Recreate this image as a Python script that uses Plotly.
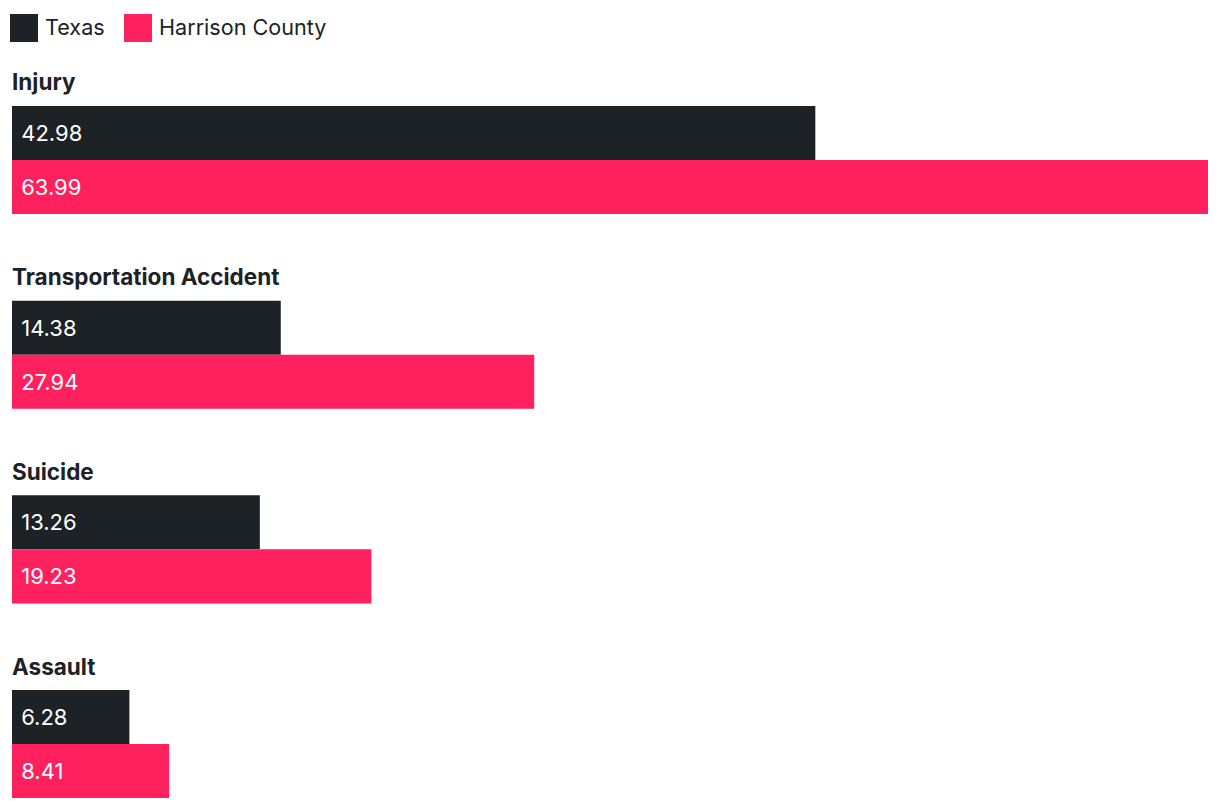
import plotly.graph_objects as go

categories = ["Injury", "Transportation Accident", "Suicide", "Assault"]
texas = [42.98, 14.38, 13.26, 6.28]
harrison = [63.99, 27.94, 19.23, 8.41]
series_names = ["Texas", "Harrison County"]
colors = ["#1c2226", "#ff215d"]

FONT = "Inter"
fig = go.Figure()
for name, vals, col in zip(series_names, [texas, harrison], colors):
    fig.add_trace(go.Bar(
        y=categories, x=vals, orientation="h", name=name,
        marker=dict(color=col, line=dict(width=0)),
        texttemplate="\u00a0%{x:.2f}", textposition="inside",
        insidetextanchor="start", textangle=0,
        textfont=dict(family=FONT, size=22, color="white"),
        showlegend=False, hoverinfo="skip",
    ))

# category labels above each group
for c in categories:
    fig.add_annotation(x=0, y=c, xref="x", yref="y", text="<b>" + c + "</b>",
                       showarrow=False, xanchor="left", yanchor="middle",
                       yshift=78, xshift=-2,
                       font=dict(family=FONT, size=22.5, color="#1c2226"))

# manual legend
leg_x = [-2, 112]
for name, col, lx in zip(series_names, colors, leg_x):
    fig.add_shape(type="rect", xref="paper", yref="paper", xsizemode="pixel",
                  ysizemode="pixel", xanchor=0, yanchor=1,
                  x0=lx, x1=lx + 28, y0=58, y1=86,
                  fillcolor=col, line=dict(width=0))
    fig.add_annotation(xref="paper", yref="paper", x=0, y=1, xshift=lx + 33,
                       yshift=73, text=name, showarrow=False,
                       xanchor="left", yanchor="middle",
                       font=dict(family=FONT, size=21.6, color="#1c2226"))

fig.update_layout(
    width=1204, height=792,
    margin=dict(l=4, r=4, t=92, b=2),
    barmode="group", bargap=0.445, bargroupgap=0,
    plot_bgcolor="white", paper_bgcolor="white",
    uniformtext=dict(mode="show", minsize=10),
    xaxis=dict(range=[0, 63.99], visible=False, fixedrange=True),
    yaxis=dict(range=[3.277, -0.308], visible=False, fixedrange=True),
    font=dict(family=FONT),
)
fig.write_html("out.html", config={"displayModeBar": False})
